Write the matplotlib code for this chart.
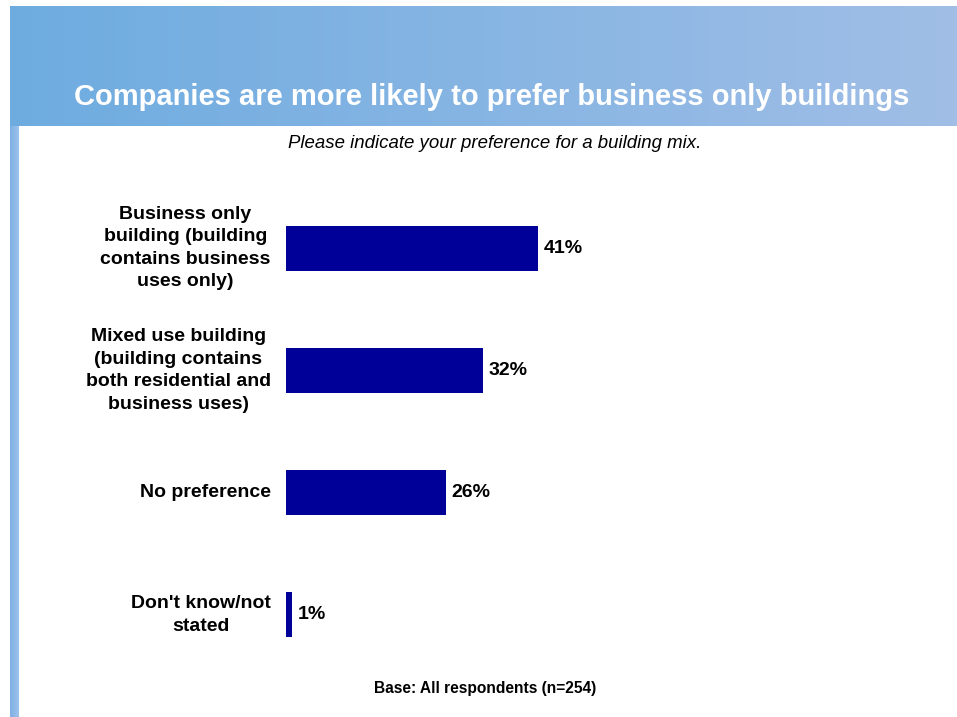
import numpy as np
import matplotlib.pyplot as plt
from matplotlib.colors import LinearSegmentedColormap

plt.rcParams['font.family'] = ['Liberation Sans', 'DejaVu Sans']

categories = [
    'Business only\nbuilding (building\ncontains business\nuses only)',
    'Mixed use building\n(building contains\nboth residential and\nbusiness uses)',
    'No preference',
    "Don't know/not\nstated",
]
shares = [41, 32, 26, 1]
value_labels = ['41%', '32%', '26%', '1%']

title = 'Companies are more likely to prefer business only buildings'
subtitle = 'Please indicate your preference for a building mix.'
footnote = 'Base: All respondents (n=254)'

W, H = 957, 717
fig = plt.figure(figsize=(W / 100, H / 100), dpi=100)

def px_axes(x0, y0, x1, y1):
    # axes placed by pixel box (top-left origin)
    return fig.add_axes([x0 / W, 1 - y1 / H, (x1 - x0) / W, (y1 - y0) / H])

# header band with a left-to-right blue gradient
head = px_axes(10, 6, 957, 126)
grad = LinearSegmentedColormap.from_list('head', ['#6eace0', '#a0bee6'])
head.imshow(np.linspace(0, 1, 256).reshape(1, -1), cmap=grad, aspect='auto',
            extent=[0, 1, 0, 1])
head.set_axis_off()
fig.text(492 / W, 1 - 97 / H, title, color='white', fontsize=21,
         fontweight='bold', ha='center', va='center')

# thin stripe down the left side
side = px_axes(10, 126, 19, 717)
side_cmap = LinearSegmentedColormap.from_list('side', ['#7fb0e3', '#9cc2ec'])
side.imshow(np.linspace(0, 1, 32).reshape(1, -1), cmap=side_cmap, aspect='auto',
            extent=[0, 1, 0, 1])
side.set_axis_off()

fig.text(495 / W, 1 - 143 / H, subtitle, fontsize=13.4, style='italic',
         ha='center', va='center')
fig.text(485 / W, 1 - 688 / H, footnote, fontsize=11.2, fontweight='bold',
         ha='center', va='center')

# bar chart
ax = px_axes(286, 187, 901, 676)
y = np.arange(len(categories))
ax.barh(y, shares, height=0.37, color='#000099')
ax.set_xlim(0, 100)
ax.set_ylim(len(categories) - 0.5, -0.5)
ax.set_axis_off()

for yi, v, lab in zip(y, shares, value_labels):
    ax.annotate(lab, (v, yi), xytext=(4, 0), textcoords='offset points',
                fontsize=14, fontweight='bold', ha='left', va='center')

for yi, cat in zip(y, categories):
    ax.annotate(cat, (0, yi), xytext=(-11, 0), textcoords='offset points',
                fontsize=14, fontweight='bold', ha='right', va='center',
                multialignment='center', linespacing=1.42)

fig.savefig('out.png', dpi=100)
